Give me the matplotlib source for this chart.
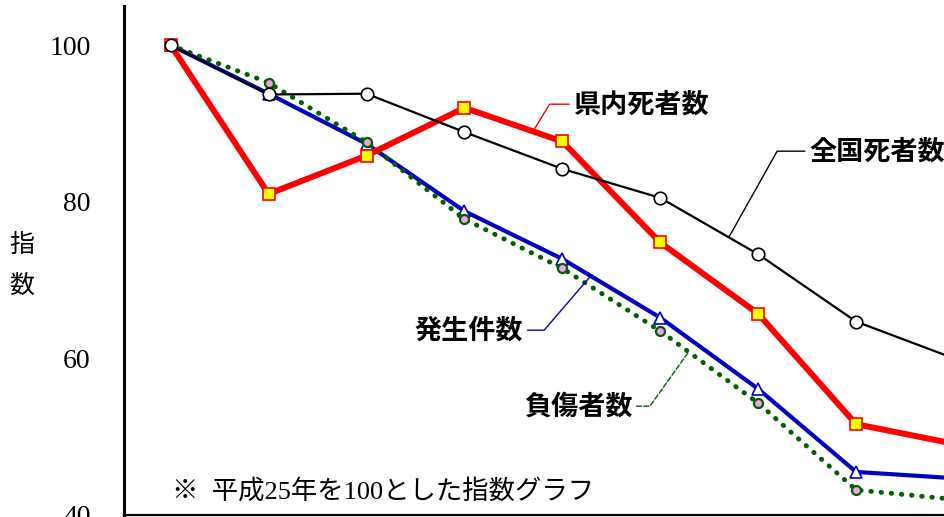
import numpy as np
import matplotlib
matplotlib.use('Agg')
import matplotlib.pyplot as plt

# Index values (H25 = 100)
years = ['H25', 'H26', 'H27', 'H28', 'H29', 'H30', 'R1', 'R2', 'R3']
national_deaths = [100, 93.7, 93.8, 88.9, 84.2, 80.5, 73.3, 64.7, 60.0]
pref_deaths = [100, 81.0, 85.9, 92.0, 87.7, 74.8, 65.7, 51.6, 49.1]
accidents = [100, 93.8, 87.4, 78.8, 72.7, 65.2, 56.1, 45.5, 44.7]
injured = [100, 95.2, 87.6, 77.8, 71.5, 63.5, 54.3, 43.2, 42.0]

x = np.arange(len(years))

jp_bold = ['Noto Sans CJK JP', 'DejaVu Sans']
serif = ['Liberation Serif', 'Noto Sans CJK JP']

fig = plt.figure(figsize=(9.44, 5.17), dpi=100)
ax = fig.add_axes([124 / 944, 2 / 517, 1 - 124 / 944, 509 / 517])

# series lines
ax.plot(x, accidents, color='#0000c0', lw=3, marker='^', ms=9,
        mfc='white', mec='#0000c0', mew=1.2, zorder=3)
ax.plot(x, injured, color='#006000', lw=3.5, linestyle=(0, (0.1, 2.0)),
        dash_capstyle='round', marker='o', ms=6.5, mfc='#f4a0e8',
        mec='#006000', mew=1.6, zorder=4)
ax.plot(x, pref_deaths, color='#ff0000', lw=4.3, marker='s', ms=8,
        mfc='#ffff00', mec='#ff0000', mew=1.2, zorder=5)
ax.plot(x, national_deaths, color='black', lw=1.6, marker='o', ms=9,
        mfc='white', mec='black', mew=1.2, zorder=6)

ax.set_xlim(-0.477, 7.898)
ax.set_ylim(40, 105)
ax.set_yticks([40, 60, 80, 100])
ax.set_xticks([])
ax.tick_params(axis='y', length=0, pad=24, labelsize=20)
for lab in ax.get_yticklabels():
    lab.set_family(serif)
for side in ['top', 'right']:
    ax.spines[side].set_visible(False)
ax.spines['left'].set_linewidth(2.2)
ax.spines['bottom'].set_linewidth(1.6)

# series labels with leader lines
labels = [
    ('県内死者数', pref_deaths, 3.70, (4.112, 92.46), 'left', '#ff0000', '-', 58.5),
    ('全国死者数', national_deaths, 5.70, (6.52, 86.46), 'left', 'black', '-', 60.7),
    ('発生件数', accidents, 4.29, (3.602, 63.6), 'right', '#0000c0', '-', 49.3),
    ('負傷者数', injured, 5.29, (4.714, 53.9), 'right', '#006000', '--', 54.5),
]
for text, series, xa, pos, ha, col, ls, ang in labels:
    ya = np.interp(xa, x, series)
    ax.annotate(text, xy=(xa, ya), xytext=pos, ha=ha, va='center',
                fontsize=19.5, fontweight='bold', family=jp_bold,
                arrowprops=dict(arrowstyle='-', color=col, lw=1.0, linestyle=ls,
                                shrinkA=1, shrinkB=0,
                                connectionstyle='angle,angleA=0,angleB=%s,rad=0' % ang),
                zorder=7, annotation_clip=False)

ax.text(0.01, 43.0, '※  平成25年を100とした指数グラフ', ha='left', va='center',
        fontsize=19, family=serif)

fig.text(22 / 944, 1 - 265 / 517, '指\n数', ha='center', va='center',
         fontsize=18, family=jp_bold, linespacing=1.75)

fig.savefig('out.png', dpi=100)
